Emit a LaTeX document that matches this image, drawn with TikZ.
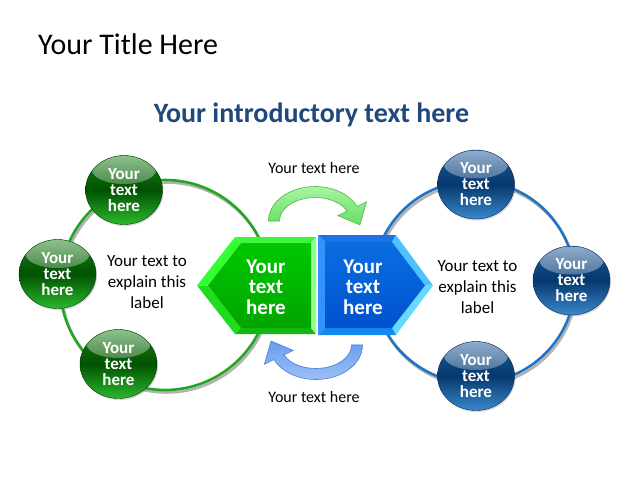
\documentclass[tikz,border=0pt]{standalone}
\usepackage{fontspec}
\setmainfont{Carlito}
\usetikzlibrary{shapes.geometric,fadings,shadows}
\definecolor{introblue}{HTML}{1F497D}
\definecolor{gring}{HTML}{22A722}
\definecolor{bring}{HTML}{2474C4}
\definecolor{gA}{HTML}{1A801A}
\definecolor{gB}{HTML}{005200}
\definecolor{gC}{HTML}{2DB82D}
\definecolor{bA}{HTML}{1E5A98}
\definecolor{bB}{HTML}{05386E}
\definecolor{bC}{HTML}{3A88CC}
\definecolor{hgTop}{HTML}{3CF53C}
\definecolor{hgUL}{HTML}{33FF33}
\definecolor{hgLL}{HTML}{1EDC1E}
\definecolor{hgBot}{HTML}{12B812}
\definecolor{hgRight}{HTML}{8CFF8C}
\definecolor{hgF1}{HTML}{00C800}
\definecolor{hgF2}{HTML}{00A400}
\definecolor{hbTop}{HTML}{1E72E6}
\definecolor{hbLeft}{HTML}{3393FA}
\definecolor{hbUR}{HTML}{4CC3FF}
\definecolor{hbLR}{HTML}{66D9FF}
\definecolor{hbBot}{HTML}{138AEE}
\definecolor{hbF1}{HTML}{0A6EE2}
\definecolor{hbF2}{HTML}{0052CC}
\definecolor{gaF1}{HTML}{A8F5A0}
\definecolor{gaF2}{HTML}{66DD66}
\definecolor{gaD}{HTML}{4CBB4C}
\definecolor{baF1}{HTML}{9CC0F8}
\definecolor{baF2}{HTML}{6A9CEC}
\definecolor{baD}{HTML}{4A7FD0}
\tikzfading[name=hlfade, top color=transparent!50, bottom color=transparent!100]
\begin{document}
\begin{tikzpicture}[x=1pt,y=-1pt,
  ball/.style={ellipse, minimum width=77pt, minimum height=69pt, inner sep=0pt,
    text=white, align=center, font=\bfseries\fontsize{17}{16}\selectfont,
    drop shadow={opacity=0.3, shadow xshift=1pt, shadow yshift=-1.5pt},
    path picture={\fill[white, path fading=hlfade]
      ([yshift=20pt]path picture bounding box.center) ellipse[x radius=32pt, y radius=14pt];}},
  gball/.style={ball, top color=gA, bottom color=gC, middle color=gB, draw=gB!80!black, line width=0.4pt},
  bball/.style={ball, top color=bA, bottom color=bC, middle color=bB, draw=bB!80!black, line width=0.4pt},
  ringshadow/.style={draw=black!30, line width=2.6pt},
  hextext/.style={text=white, align=center, font=\bfseries\fontsize{21}{20.5}\selectfont},
  lbl/.style={align=center, font=\fontsize{17}{21}\selectfont},
  smalllbl/.style={font=\fontsize{16}{19}\selectfont}
]
\useasboundingbox (0,0) rectangle (640,480);
\fill[white] (0,0) rectangle (640,480);

% title & intro
\node[anchor=base west, inner sep=0pt, font=\fontsize{30}{36}\selectfont] (title) at (38,54) {Your Title Here};
\node[anchor=base, inner sep=0pt, text=introblue, font=\bfseries\fontsize{28}{34}\selectfont] (intro) at (311.5,122) {Your introductory text here};

% rings
\draw[ringshadow] (166.5,287.5) circle[radius=105];
\draw[gring, line width=2.6pt] (165,285) circle[radius=105];
\draw[ringshadow] (475.5,284.5) circle[radius=101];
\draw[bring, line width=2.6pt] (474,282) circle[radius=101];

% spheres
\node[gball] (g1) at (124,190) {Your\\text\\here};
\node[gball] (g2) at (57.5,274) {Your\\text\\here};
\node[gball] (g3) at (118.5,364) {Your\\text\\here};
\node[bball] (b1) at (476,184.5) {Your\\text\\here};
\node[bball] (b2) at (571.5,280.5) {Your\\text\\here};
\node[bball] (b3) at (476,376) {Your\\text\\here};

% green hexagon
\fill[hgTop] (235,237) -- (316,237) -- (311,243) -- (241,243) -- cycle;
\fill[hgUL] (197,285.5) -- (235,237) -- (241,243) -- (208,285.5) -- cycle;
\fill[hgLL] (197,285.5) -- (208,285.5) -- (241,328) -- (235,334) -- cycle;
\fill[hgBot] (235,334) -- (241,328) -- (311,328) -- (316,334) -- cycle;
\fill[hgRight] (311,243) -- (316,237) -- (316,334) -- (311,328) -- cycle;
\shade[top color=hgF1, bottom color=hgF2] (241,243) -- (311,243) -- (311,328) -- (241,328) -- (208,285.5) -- cycle;

% blue hexagon
\fill[hbTop] (318,235) -- (396,235) -- (392,242) -- (325,242) -- cycle;
\fill[hbLeft] (318,235) -- (325,242) -- (325,328) -- (318,335) -- cycle;
\fill[hbUR] (396,235) -- (433,285.5) -- (425,285.5) -- (392,242) -- cycle;
\fill[hbLR] (433,285.5) -- (396,335) -- (392,328) -- (425,285.5) -- cycle;
\fill[hbBot] (318,335) -- (325,328) -- (392,328) -- (396,335) -- cycle;
\shade[top color=hbF1, bottom color=hbF2] (325,242) -- (392,242) -- (425,285.5) -- (392,328) -- (325,328) -- cycle;

\node[hextext] (gtext) at (266,287) {Your\\text\\here};
\node[hextext] (btext) at (363,287) {Your\\text\\here};

% curved arrows
\shade[top color=gaF1, bottom color=gaF2, draw=gaD, line width=0.6pt]
  (268.5,221) arc[start angle=180, end angle=335, x radius=46.5, y radius=34.5]
  -- (366.6,201.8) -- (359.9,224.9) -- (337.8,215.6) -- (347.2,211.1)
  arc[start angle=335, end angle=180, x radius=35.5, y radius=23.5] -- cycle;
\begin{scope}[rotate around={180:(315.5,283)}]
\shade[top color=baF2, bottom color=baF1, draw=baD, line width=0.6pt]
  (268.5,221) arc[start angle=180, end angle=335, x radius=46.5, y radius=34.5]
  -- (366.6,201.8) -- (359.9,224.9) -- (337.8,215.6) -- (347.2,211.1)
  arc[start angle=335, end angle=180, x radius=35.5, y radius=23.5] -- cycle;
\end{scope}

% labels
\node[lbl] (gl) at (147,282) {Your text to\\explain this\\label};
\node[lbl] (bl) at (477.5,287) {Your text to\\explain this\\label};
\node[smalllbl] (tl) at (314,168) {Your text here};
\node[smalllbl] (bl2) at (314,397) {Your text here};
\end{tikzpicture}
\end{document}
